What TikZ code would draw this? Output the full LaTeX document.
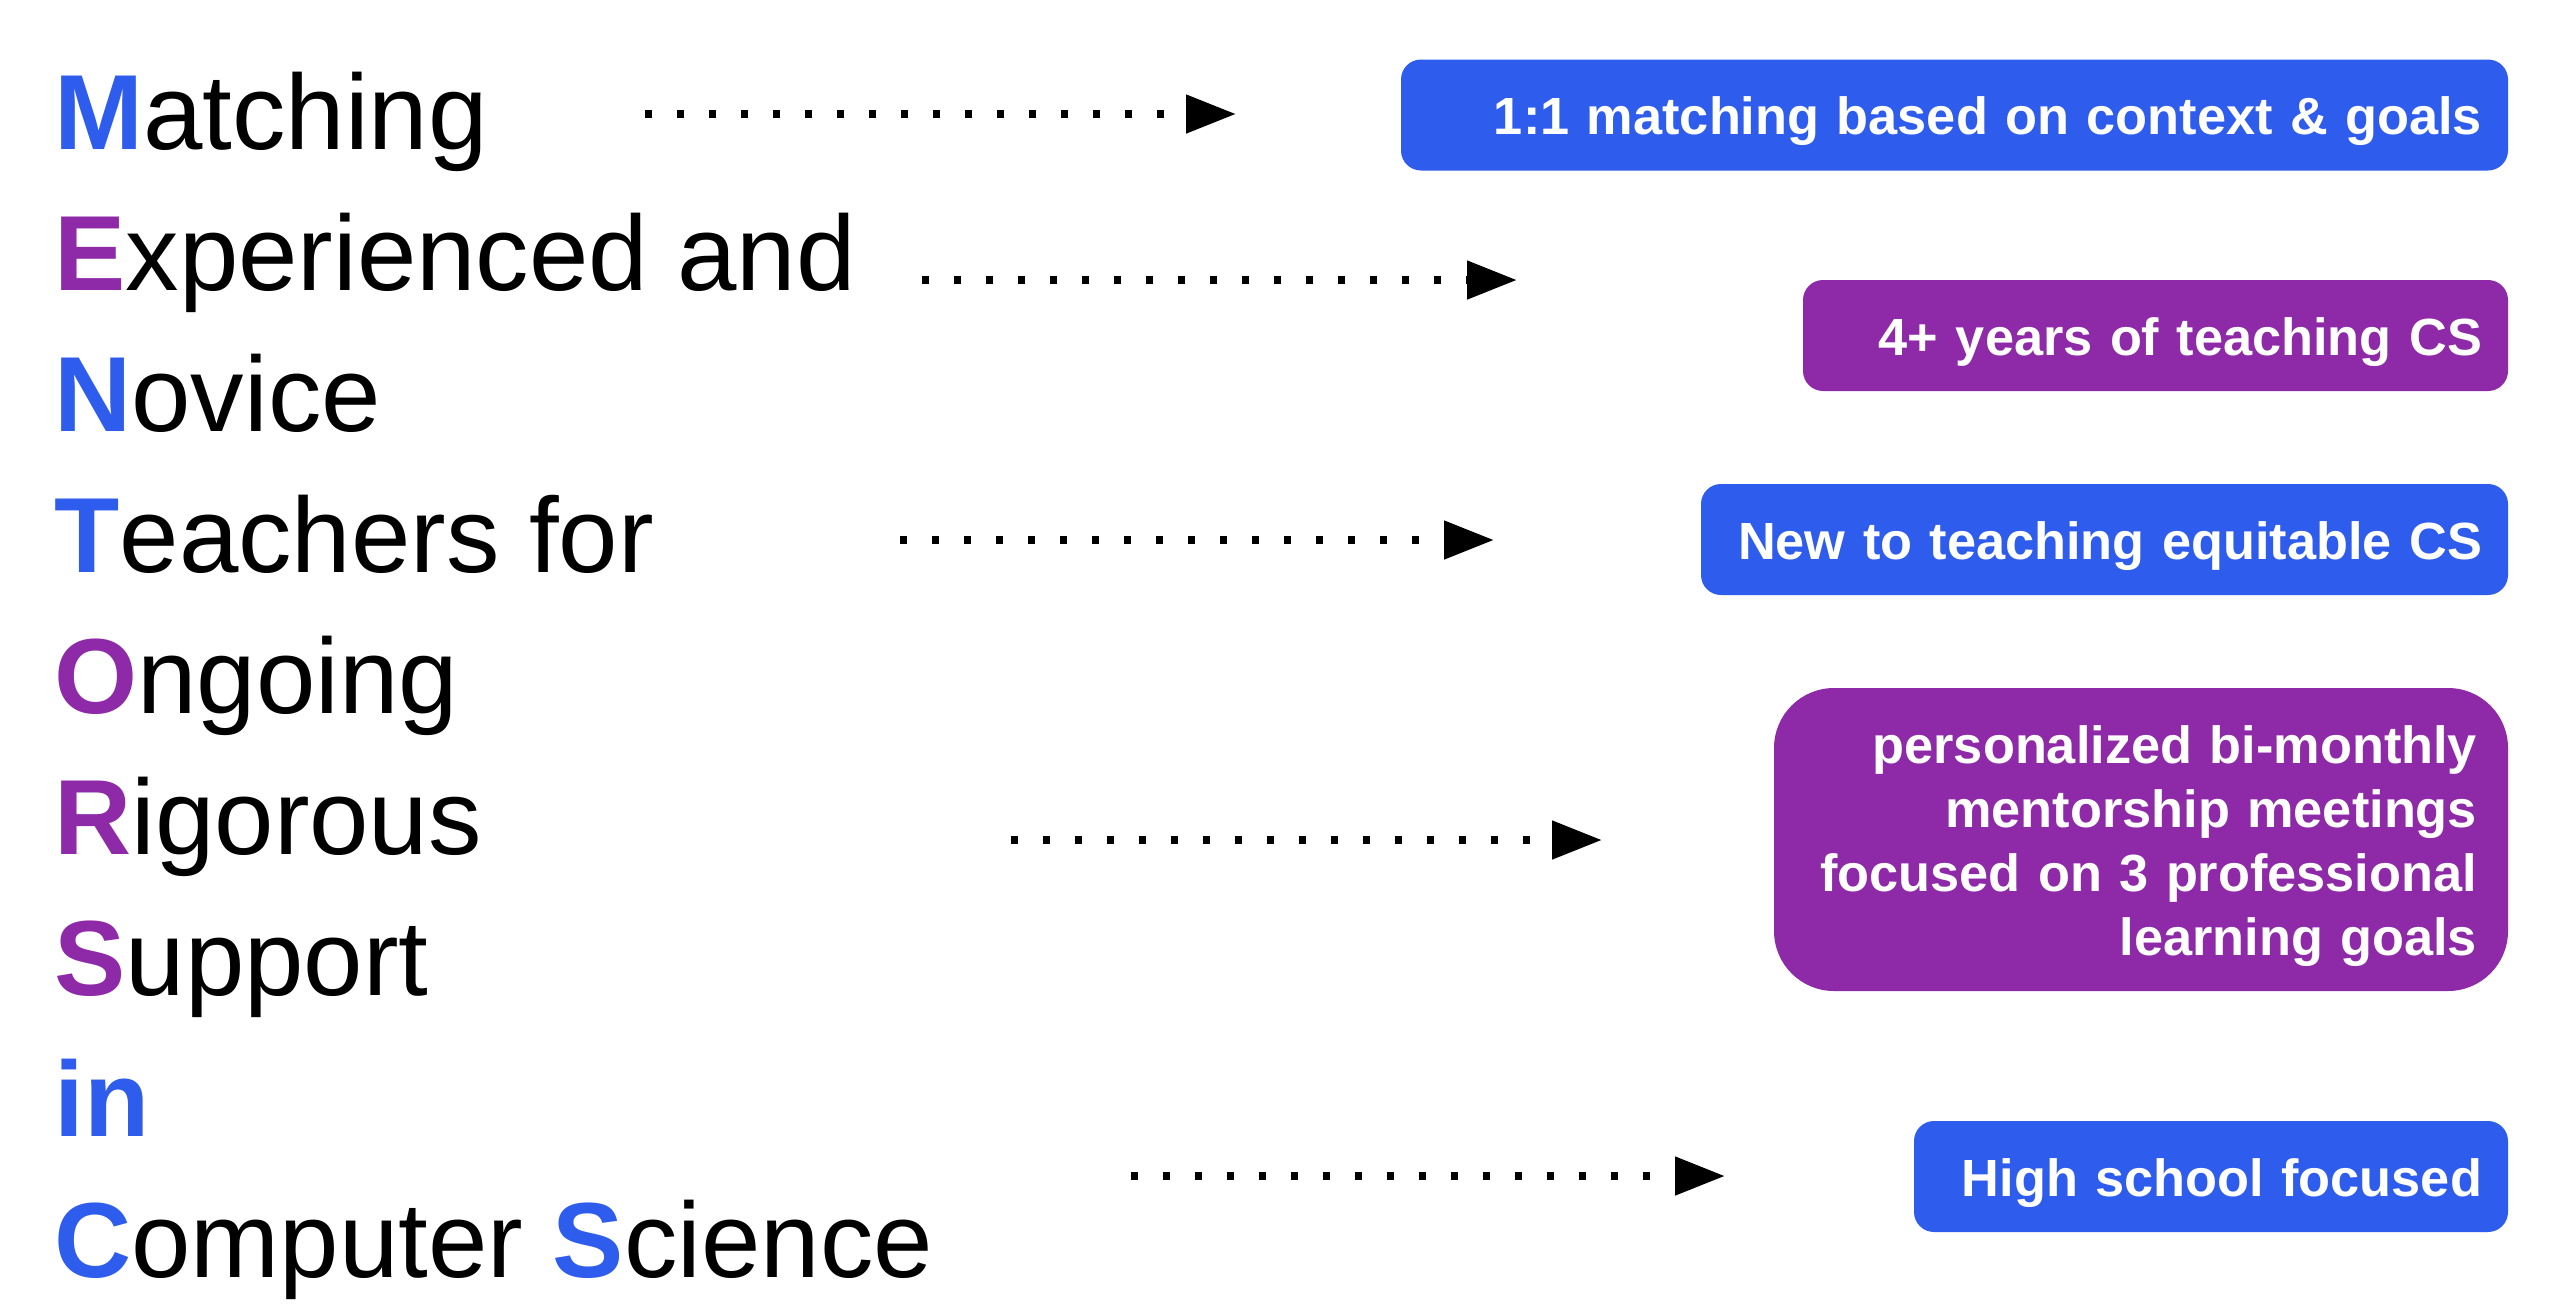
\documentclass[tikz,border=0pt]{standalone}
\usepackage{fontspec}
\setmainfont{Liberation Sans}
\usetikzlibrary{arrows.meta}
\definecolor{mblue}{RGB}{46,92,236}
\definecolor{mpurple}{RGB}{142,41,168}
\newcommand{\bl}[1]{\textbf{\color{mblue}#1}}
\newcommand{\pu}[1]{\textbf{\color{mpurple}#1}}
\tikzset{
  word/.style={anchor=base west, inner sep=0pt, font=\fontsize{53.4}{60}\selectfont, text=black},
  box/.style={rounded corners=10pt, inner ysep=0pt, inner xsep=13pt, align=right,
    font=\fontsize{26.15}{32}\selectfont\bfseries, text=white,
    text height=19.5pt, text depth=0pt, minimum height=55.5pt},
  bluebox/.style={box, fill=mblue},
  purplebox/.style={box, fill=mpurple},
  dotarrow/.style={line width=4pt, dash pattern=on 3.25pt off 12.75pt,
    -{Triangle[length=25pt,width=18.5pt]}}
}
\begin{document}
\begin{tikzpicture}[x=0.5pt,y=-0.5pt]
\useasboundingbox (0,0) rectangle (2560,1312);
\fill[white] (0,0) rectangle (2560,1312);
% acronym words
\node[word] (w1) at (54,149) {\bl{M}atching};
\node[word] (w2) at (54,290) {\pu{E}xperienced and};
\node[word] (w3) at (54,431) {\bl{N}ovice};
\node[word] (w4) at (54,572) {\bl{T}eachers for};
\node[word] (w5) at (54,713) {\pu{O}ngoing};
\node[word] (w6) at (54,854) {\pu{R}igorous};
\node[word] (w7) at (54,995) {\pu{S}upport};
\node[word] (w8) at (54,1136) {\bl{in}};
\node[word] (w9) at (54,1277) {\bl{C}omputer \bl{S}cience};
% boxes
\node[bluebox, minimum width=553.5pt, text width=527.5pt] (b1) at (1954.5,115)
  {1:1 matching based on context \& goals};
\node[purplebox, minimum width=352.5pt, text width=326.5pt] (b2) at (2155.5,335.5)
  {4+ years of teaching CS};
\node[bluebox, minimum width=403.5pt, text width=377.5pt] (b3) at (2104.5,539.5)
  {New to teaching equitable CS};
\node[purplebox, rounded corners=30pt, minimum width=367pt, text width=336pt, inner xsep=15.5pt,
  minimum height=151.5pt, text depth=96pt] (b4) at (2141,839.5)
  {personalized bi-monthly\\mentorship meetings\\focused on 3 professional\\learning goals};
\node[bluebox, minimum width=297pt, text width=271pt] (b5) at (2211,1176.5)
  {High school focused};
% arrow ends
\coordinate (s1) at (645,114);  \coordinate (e1) at (1236,114);
\coordinate (s2) at (922,280);  \coordinate (e2) at (1517,280);
\coordinate (s3) at (900,540);  \coordinate (e3) at (1494,540);
\coordinate (s4) at (1011,840); \coordinate (e4) at (1602,840);
\coordinate (s5) at (1131,1176);\coordinate (e5) at (1725,1176);
\draw[dotarrow] (s1) -- (e1);
\draw[dotarrow] (s2) -- (e2);
\draw[dotarrow] (s3) -- (e3);
\draw[dotarrow] (s4) -- (e4);
\draw[dotarrow] (s5) -- (e5);
\end{tikzpicture}
\end{document}
